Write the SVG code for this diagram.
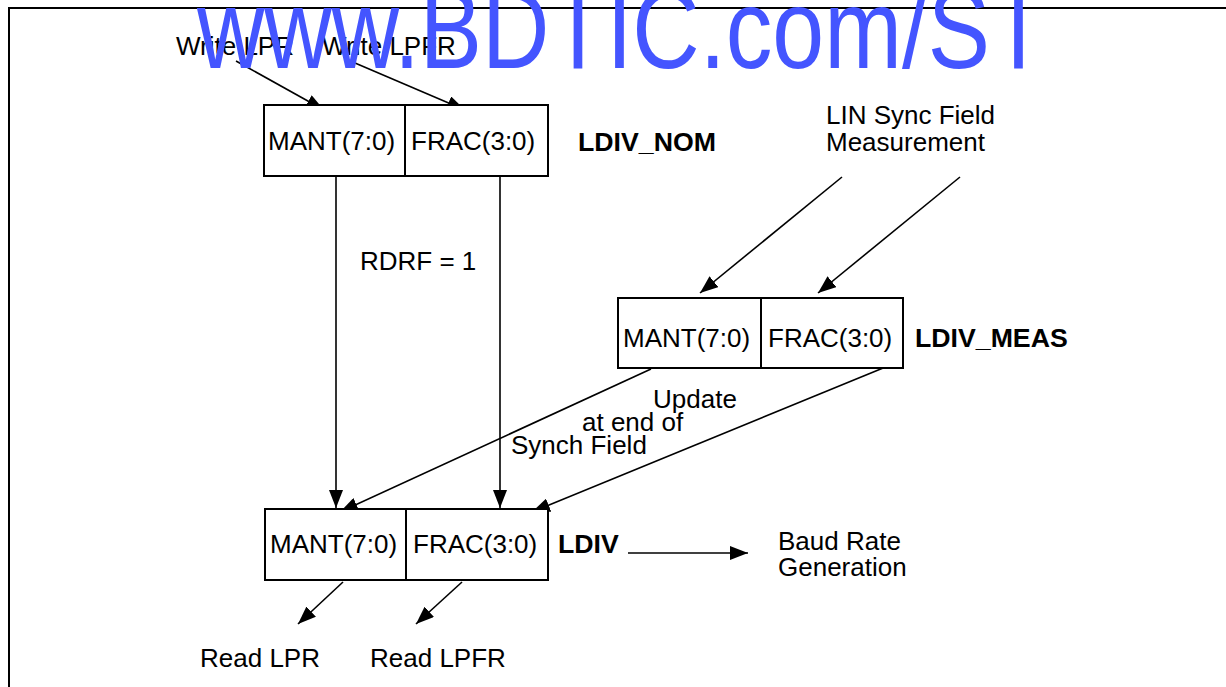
<svg xmlns="http://www.w3.org/2000/svg" width="1226" height="687" viewBox="0 0 1226 687">
<style>
text{font-family:"Liberation Sans",Arial,Helvetica,sans-serif;font-size:26px;fill:#000}
.b{font-weight:bold;font-size:26.7px}
.box{fill:#fff;stroke:#000;stroke-width:2}
.div{stroke:#000;stroke-width:2}
.c{stroke:#000;stroke-width:1.6;fill:none;marker-end:url(#ah)}
.wm{font-family:"Liberation Sans Narrow","Liberation Sans",Arial,sans-serif;font-size:114px;fill:#4455ff}
</style>
<defs>
<marker id="ah" markerUnits="userSpaceOnUse" viewBox="0 0 18 14" refX="18" refY="7" markerWidth="18" markerHeight="14" orient="auto">
<path d="M0,0 L18,7 L0,14 z" fill="#000"/>
</marker>
</defs>
<path d="M9,687 V8 H1226" fill="none" stroke="#000" stroke-width="2"/>
<g id="connectors">
<line class="c" x1="236" y1="61" x2="324" y2="110"/>
<line class="c" x1="348" y1="60" x2="465" y2="110"/>
<line class="c" x1="842" y1="177" x2="700" y2="293"/>
<line class="c" x1="960" y1="177" x2="818" y2="293"/>
<line class="c" x1="336" y1="176" x2="336" y2="508"/>
<line class="c" x1="500" y1="176" x2="500" y2="508"/>
<line class="c" x1="651" y1="369" x2="340" y2="512"/>
<line class="c" x1="888" y1="366" x2="532" y2="512"/>
<line class="c" x1="343" y1="582" x2="298" y2="624"/>
<line class="c" x1="462" y1="582" x2="416" y2="624"/>
<line class="c" x1="628" y1="553" x2="748" y2="553"/>
</g>
<g id="write-lpr"><text x="176" y="55">Write LPR</text></g>
<g id="write-lpfr"><text x="322" y="55">Write LPFR</text></g>
<g id="ldiv-nom">
<rect class="box" x="264" y="105" width="284" height="71"/>
<line class="div" x1="405" y1="105" x2="405" y2="176"/>
<text x="268" y="150">MANT(7:0)</text>
<text x="411" y="150">FRAC(3:0)</text>
<text class="b" x="578" y="151">LDIV_NOM</text>
</g>
<g id="lin-sync"><text x="826" y="124">LIN Sync Field</text><text x="826" y="151">Measurement</text></g>
<g id="rdrf"><text x="360" y="270">RDRF = 1</text></g>
<g id="ldiv-meas">
<rect class="box" x="618" y="298" width="285" height="70"/>
<line class="div" x1="761" y1="298" x2="761" y2="368"/>
<text x="623" y="347">MANT(7:0)</text>
<text x="768" y="347">FRAC(3:0)</text>
<text class="b" x="915" y="347">LDIV_MEAS</text>
</g>
<g id="update"><text x="653" y="408">Update</text><text x="582" y="431">at end of</text><text x="511" y="454">Synch Field</text></g>
<g id="ldiv">
<rect class="box" x="265" y="509" width="283" height="71"/>
<line class="div" x1="406" y1="509" x2="406" y2="580"/>
<text x="270" y="553">MANT(7:0)</text>
<text x="413" y="553">FRAC(3:0)</text>
<text class="b" x="558" y="553">LDIV</text>
</g>
<g id="baud"><text x="778" y="550">Baud Rate</text><text x="778" y="576">Generation</text></g>
<g id="read-lpr"><text x="200" y="667">Read LPR</text></g>
<g id="read-lpfr"><text x="370" y="667">Read LPFR</text></g>
<g id="watermark"><text class="wm" x="197" y="68" textLength="850" lengthAdjust="spacingAndGlyphs">www.BDTIC.com/ST</text></g>
</svg>
